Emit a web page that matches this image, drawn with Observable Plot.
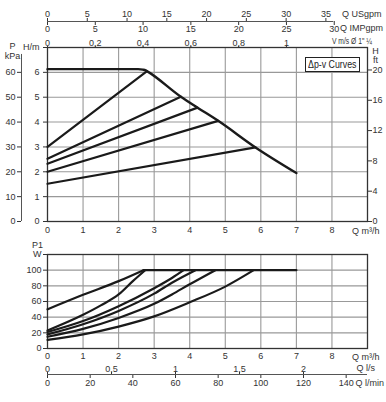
<!DOCTYPE html>
<html><head><meta charset="utf-8">
<script src="https://cdn.jsdelivr.net/npm/d3@7"></script>
<script src="https://cdn.jsdelivr.net/npm/@observablehq/plot@0.6"></script>
<style>
body{margin:0;background:#fff;}
#wrap{position:relative;width:386px;height:402px;font-family:"Liberation Sans",Arial,sans-serif;color:#333;}
#wrap svg{display:block;}
#legend{position:absolute;left:305px;top:57px;width:55px;height:15px;box-sizing:border-box;border:1.5px solid #222;background:#fff;font-size:11px;line-height:12px;text-align:center;color:#222;white-space:nowrap;overflow:hidden;}
#legend span{display:inline-block;transform:scaleX(0.8);transform-origin:center;margin-left:-8px;margin-right:-8px;}
</style></head><body><div id="wrap"></div><script>
// ---- tick labels ----
const qTicks = [0,1,2,3,4,5,6,7,8];
const hTicks = [0,1,2,3,4,5,6,7];
const kpaTicks = [0,10,20,30,40,50,60];
const ftTicks = [0,4,8,12,16,20];
const usTicks = [0,5,10,15,20,25,30,35];
const impTicks = [0,5,10,15,20,25,30];
const vTicks = [0,0.2,0.4,0.6,0.8,1];
const wTicks = [0,20,40,60,80,100,120];
const lsTicks = [0,0.5,1,1.5,2];
const lminTicks = [0,20,40,60,80,100,120,140];

// ---- head curves (Q m3/h, H m) ----
const maxQ = [0,2.55,2.68,2.76,2.82,3.75,4.22,4.8,5.85,7];
const maxH = [6.13,6.13,6.11,6.08,6.03,5.02,4.58,4.05,2.98,1.95];
const dpvStartH = [3.0,2.52,2.32,2.0,1.52];
const dpvEndQ = [2.8,3.75,4.22,4.8,5.85];
const dpvEndH = [6.05,5.02,4.58,4.05,2.98];

// ---- power curves (Q m3/h, P1 W) ----
const powQ = [
  [0,1,2,2.7],
  [0,1,1.5,2,2.4,2.75],
  [0,1,2,3,3.5,3.83],
  [0,1,2,3,3.5,4.16],
  [0,1,2,3,3.5,4,4.72],
  [0,1,2,3,4,5,5.8],
  [2.7,7]
];
const powW = [
  [50,68.5,86,100],
  [23,43,55,69,86,100],
  [21,35,54,77,90,100],
  [18,31,48,70,84,100],
  [15,25,39,57,69,82,100],
  [11,18,28,41,59,79,100],
  [100,100]
];

// unit conversions for secondary axes
const usPerQ = 4.47, impPerQ = 3.72, qPerV = 6.72, qPerLs = 3.6, qPerLmin = 0.06, mPerFt = 0.3048, mPerKpa = 0.1;
const fmt = v => String(v).replace(".", ",");

const maxTable = maxQ.map((q,i)=>({q, h:maxH[i]}));
const dpvTable = dpvStartH.flatMap((h0,i)=>[{s:i,q:0,h:h0},{s:i,q:dpvEndQ[i],h:dpvEndH[i]}]);
const powTable = powQ.flatMap((qs,s)=>qs.map((q,i)=>({s,q,w:powW[s][i]})));

const FONT = '"Liberation Sans",Arial,sans-serif';
const style = {fontFamily:FONT, fontSize:"9px", color:"#333", background:"transparent"};
const gridC = "#999", lineC = "#1a1a1a";

const upper = Plot.plot({
  width:386, height:238, marginLeft:47, marginRight:19, marginTop:47, marginBottom:17,
  style, x:{domain:[0,9]}, y:{domain:[0,7]},
  marks:[
    Plot.ruleX(qTicks.filter(d=>d>0), {stroke:gridC, strokeWidth:1.1}),
    Plot.ruleY(hTicks.filter(d=>d>0&&d<7), {stroke:gridC, strokeWidth:1.1}),
    Plot.frame({stroke:"#333", strokeWidth:1.3}),
    Plot.axisY(hTicks, {anchor:"left", tickSize:4, tickPadding:4, tickFormat:d=>d===7?"H/m":d, label:null}),
    Plot.axisY(kpaTicks.map(k=>k*mPerKpa), {anchor:"left", dx:-26, tickSize:4, tickPadding:2, tickFormat:d=>Math.round(d/mPerKpa), label:null}),
    Plot.ruleX([0], {y1:0, y2:6.72, dx:-26, stroke:"#555"}),
    Plot.text(["P"], {x:0, y:7, dx:-35, dy:-1}),
    Plot.text(["kPa"], {x:0, y:7, dx:-35, dy:8.5}),
    Plot.axisY(ftTicks.map(f=>f*mPerFt), {anchor:"right", tickSize:4, tickPadding:1, tickFormat:d=>Math.round(d/mPerFt), label:null}),
    Plot.text(["H"], {x:9, y:7, dx:8, dy:4}),
    Plot.text(["ft"], {x:9, y:7, dx:8, dy:13}),
    Plot.axisX(qTicks, {anchor:"bottom", tickSize:0, tickPadding:5, label:null}),
    Plot.text(["Q m³/h"], {x:8, y:0, dx:20, dy:10, textAnchor:"start"}),
    Plot.axisX(vTicks.map(v=>v*qPerV), {anchor:"top", tickSize:2, tickPadding:0, tickFormat:d=>fmt(Math.round(d/qPerV*10)/10), label:null}),
    Plot.text([`V m/s Ø 1" ¼`], {x:8, y:7, dy:-6, textAnchor:"start"}),
    Plot.axisX(usTicks.map(v=>v/usPerQ), {anchor:"top", dy:-26, tickSize:4, tickPadding:1, tickFormat:d=>Math.round(d*usPerQ), label:null}),
    Plot.axisX(impTicks.map(v=>v/impPerQ), {anchor:"bottom", dy:-200, tickSize:4, tickPadding:0, tickFormat:d=>Math.round(d*impPerQ), label:null}),
    Plot.ruleY([7], {x1:0, x2:8.05, dy:-26, stroke:"#555"}),
    Plot.text(["Q USgpm"], {x:8, y:7, dx:10, dy:-33, textAnchor:"start"}),
    Plot.text(["Q IMPgpm"], {x:8, y:7, dx:8, dy:-19, textAnchor:"start"}),
    Plot.line(maxTable, {x:"q", y:"h", stroke:lineC, strokeWidth:2.4, curve:"monotone-x"}),
    Plot.line(dpvTable, {x:"q", y:"h", z:"s", stroke:lineC, strokeWidth:2.2})
  ]
});

const lower = Plot.plot({
  width:386, height:164, marginLeft:47, marginRight:19, marginTop:16, marginBottom:54,
  style, x:{domain:[0,9]}, y:{domain:[0,120]},
  marks:[
    Plot.ruleX(qTicks.filter(d=>d>0), {stroke:gridC, strokeWidth:1.1}),
    Plot.ruleY(wTicks.filter(d=>d>0&&d<120), {stroke:gridC, strokeWidth:1.1}),
    Plot.frame({stroke:"#333", strokeWidth:1.3}),
    Plot.axisY(wTicks, {anchor:"left", tickSize:4, tickPadding:2, tickFormat:d=>d===120?"W":d, label:null}),
    Plot.text(["P1"], {x:0, y:120, dx:-10, dy:-9.5}),
    Plot.axisX(qTicks, {anchor:"bottom", tickSize:0, tickPadding:4, label:null}),
    Plot.text(["Q m³/h"], {x:8, y:0, dx:20, dy:9, textAnchor:"start"}),
    Plot.axisX(lsTicks.map(v=>v*qPerLs), {anchor:"top", dy:120, tickSize:3, tickPadding:0, tickFormat:d=>fmt(Math.round(d/qPerLs*10)/10), label:null}),
    Plot.axisX(lminTicks.map(v=>v*qPerLmin), {anchor:"bottom", dy:26, tickSize:4, tickPadding:1, tickFormat:d=>Math.round(d/qPerLmin), label:null}),
    Plot.ruleY([0], {x1:0, x2:9, dy:26, stroke:"#555"}),
    Plot.text(["Q l/s"], {x:9, y:0, dx:-11, dy:20, textAnchor:"start"}),
    Plot.text(["Q l/min"], {x:9, y:0, dx:-12, dy:35, textAnchor:"start"}),
    Plot.line(powTable, {x:"q", y:"w", z:"s", stroke:lineC, strokeWidth:2.2, curve:"monotone-x"})
  ]
});

// the pipe-velocity caption is set in a narrow face in the reference
upper.querySelectorAll("text").forEach(t => {
  if (t.textContent.startsWith("V m/s")) {
    t.setAttribute("textLength", "40");
    t.setAttribute("lengthAdjust", "spacingAndGlyphs");
  }
});

const wrap = document.getElementById("wrap");
wrap.appendChild(upper);
wrap.appendChild(lower);
const lg = document.createElement("div");
lg.id = "legend";
const sp = document.createElement("span");
sp.textContent = "Δp-v Curves";
lg.appendChild(sp);
wrap.appendChild(lg);
</script></body></html>
